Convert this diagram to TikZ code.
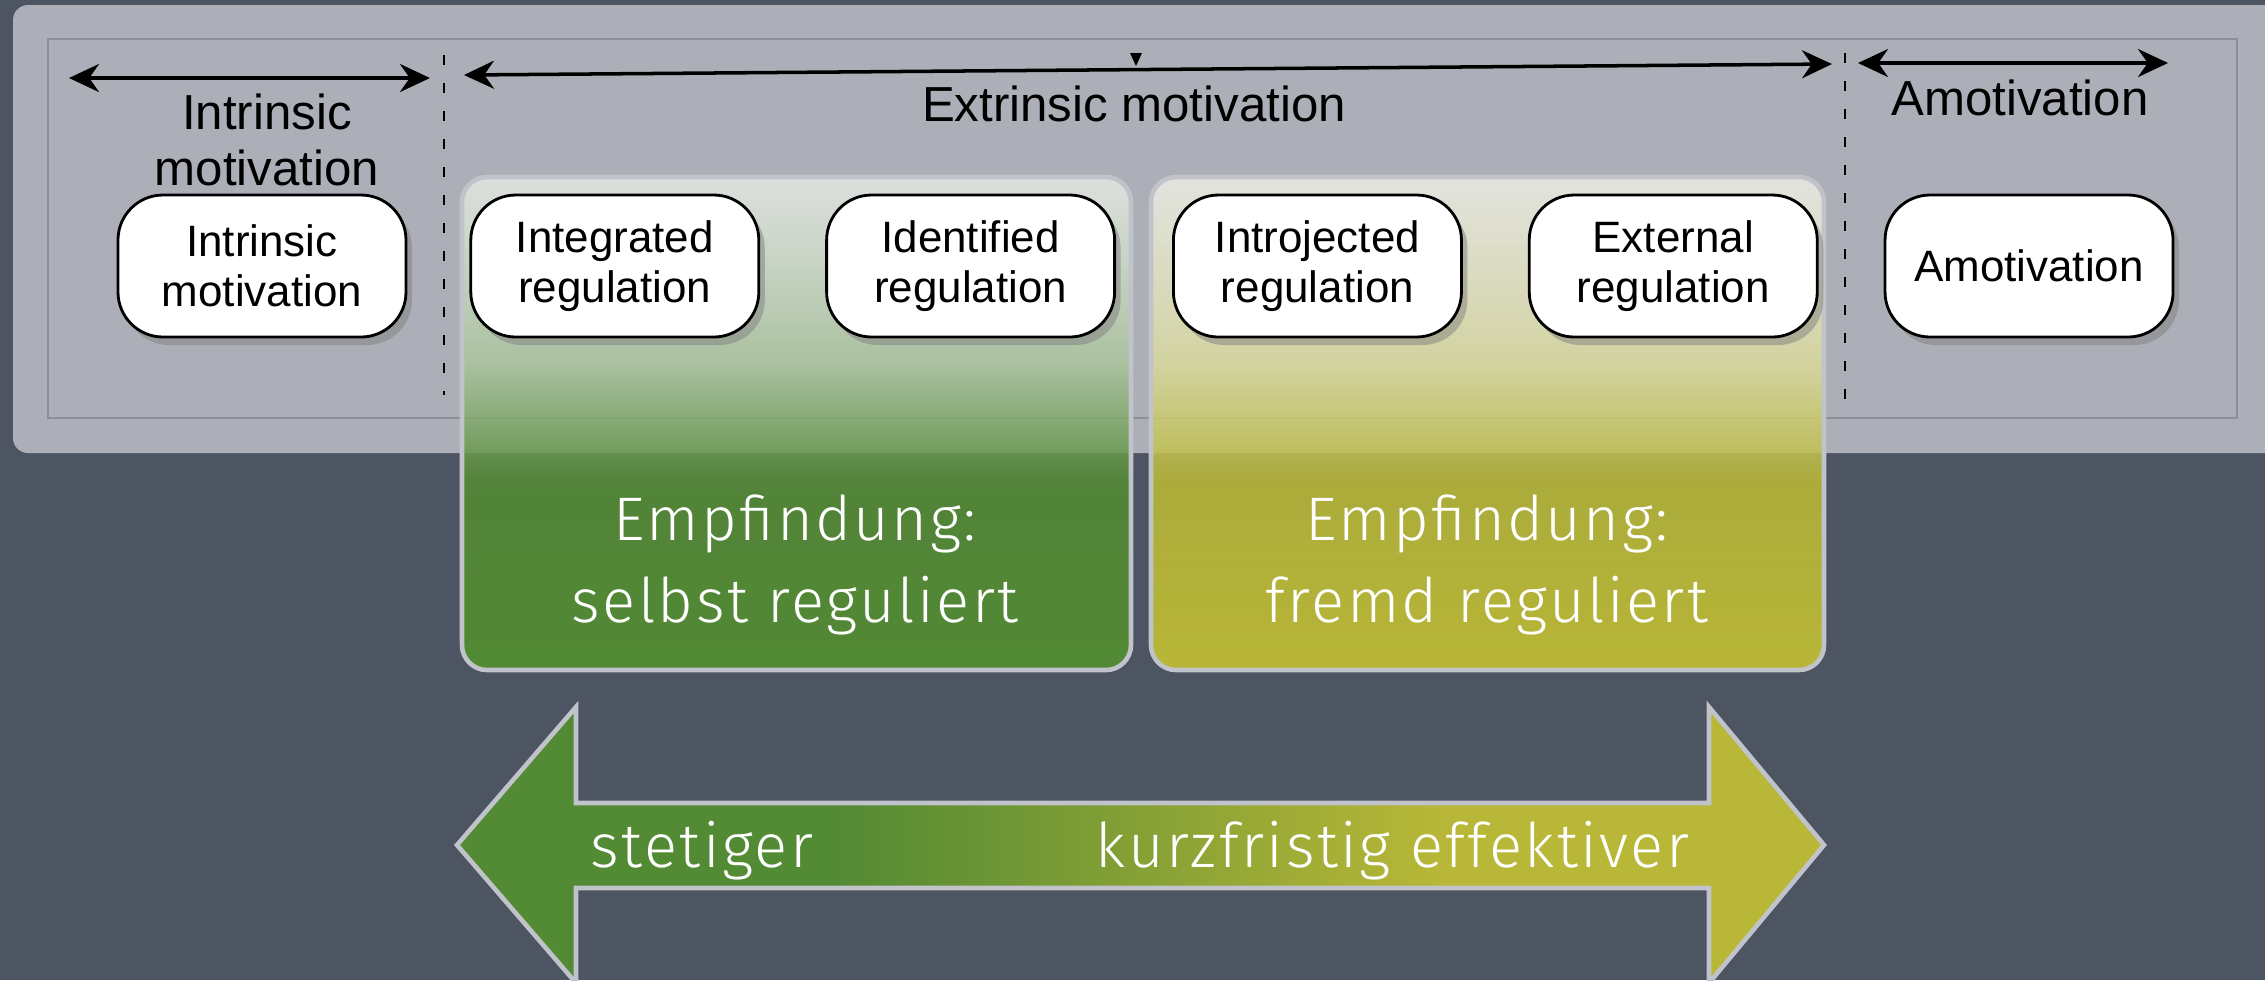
\documentclass[tikz,border=0pt]{standalone}
\usepackage{fontspec}
\setmainfont{Liberation Sans}
\newfontfamily\chalkfont[LetterSpace=4]{Fira Sans Light}
\usetikzlibrary{positioning, shadows, arrows.meta, fadings}

\definecolor{slate}{RGB}{77,84,98}
\definecolor{sheet}{RGB}{172,175,183}
\definecolor{frame}{RGB}{140,143,151}
\definecolor{selfgreen}{RGB}{83,138,52}
\definecolor{fremdyellow}{RGB}{184,183,55}
\definecolor{rim}{RGB}{192,195,201}

\pgfdeclareverticalshading{selfshade}{100bp}{color(0bp)=(selfgreen); color(25bp)=(selfgreen); color(44bp)=(selfgreen); color(56bp)=(selfgreen!50!white); color(75bp)=(selfgreen!8!white); color(100bp)=(selfgreen!8!white)}
\pgfdeclareverticalshading{fremdshade}{100bp}{color(0bp)=(fremdyellow); color(25bp)=(fremdyellow); color(44bp)=(fremdyellow); color(56bp)=(fremdyellow!50!white); color(75bp)=(fremdyellow!8!white); color(100bp)=(fremdyellow!8!white)}
\pgfdeclarehorizontalshading{trend}{100bp}{color(0bp)=(selfgreen); color(25bp)=(selfgreen); color(39bp)=(selfgreen); color(61bp)=(fremdyellow); color(75bp)=(fremdyellow); color(100bp)=(fremdyellow)}
\tikzfading[name=panelfade, top color=transparent!30, middle color=transparent!25, bottom color=transparent!0]

\tikzset{
  regbox/.style={draw, line width=0.8pt, fill=white, rounded corners=4.5mm,
    minimum width=2.88cm, minimum height=1.42cm, align=center,
    font=\fontsize{12.5}{14.2}\selectfont,
    drop shadow={shadow xshift=0.6mm, shadow yshift=-0.8mm, opacity=0.5}},
  spanarrow/.style={line width=1pt, {Stealth[length=3mm,width=2.8mm]}-{Stealth[length=3mm,width=2.8mm]}},
  divider/.style={line width=0.8pt, dash pattern=on 1mm off 1.8mm},
  spanlabel/.style={font=\fontsize{14}{16}\selectfont, align=center},
  panelfill/.style={rounded corners=2.5mm, path fading=panelfade},
  panelrim/.style={draw=rim, line width=1.3pt, rounded corners=2.5mm},
  chalk/.style={text=white, inner sep=0pt, align=center,
    font=\chalkfont\fontsize{17.5}{23.5}\selectfont},
}

\begin{document}
\begin{tikzpicture}
	% slate and the scanned sheet
	\fill[slate] (0,0) rectangle (22.65,-9.80);
	\useasboundingbox (0,0) rectangle (22.65,-9.80);
	\fill[sheet, rounded corners=1.5mm] (0.13,-0.05) rectangle (23.00,-4.53);
	\draw[frame, line width=0.4pt] (0.48,-0.39) rectangle (22.37,-4.18);
	\draw[divider] (4.44,-0.55) -- (4.44,-3.95);
	\draw[divider] (18.45,-0.53) -- (18.45,-4.03);

	% spans on top
	\coordinate (intrL) at (0.69,-0.78);
	\coordinate (intrR) at (4.30,-0.78);
	\coordinate (extrL) at (4.64,-0.75);
	\coordinate (extrR) at (18.32,-0.64);
	\coordinate (amotL) at (18.58,-0.63);
	\coordinate (amotR) at (21.68,-0.63);
	\draw[spanarrow] (intrL) -- (intrR);
	\draw[spanarrow] (extrL) -- (extrR);
	\draw[spanarrow] (amotL) -- (amotR);
	\fill (11.30,-0.53) -- (11.42,-0.53) -- (11.36,-0.66) -- cycle;
	\node[spanlabel] at (2.67,-1.40) (intrhead) {Intrinsic\\motivation};
	\node[spanlabel, anchor=base] at (11.34,-1.21) (extrhead) {Extrinsic motivation};
	\node[spanlabel, anchor=base] at (20.20,-1.15) (amothead) {Amotivation};

	% tinted panels
	\coordinate (selfTL) at (4.62,-1.77);
	\coordinate (selfBR) at (11.31,-6.70);
	\coordinate (fremdTL) at (11.51,-1.77);
	\coordinate (fremdBR) at (18.24,-6.70);
	\shade[panelfill, shading=selfshade] (selfTL) rectangle (selfBR);
	\draw[panelrim] (selfTL) rectangle (selfBR);
	\shade[panelfill, shading=fremdshade] (fremdTL) rectangle (fremdBR);
	\draw[panelrim] (fremdTL) rectangle (fremdBR);

	% regulation styles
	\node at (2.62,-2.66) [regbox] (intr) {Intrinsic\\motivation};
	\node [regbox, right=0.62cm of intr] (integ) {Integrated\\regulation};
	\node [regbox, right=0.65cm of integ] (ident) {Identified\\regulation};
	\node [regbox, right=0.56cm of ident] (intro) {Introjected\\regulation};
	\node [regbox, right=0.65cm of intro] (extern) {External\\regulation};
	\node [regbox, right=0.65cm of extern] (amot) {Amotivation};

	\node[chalk] at (7.95,-5.65) (selftext) {Empfindung:\\selbst reguliert};
	\node[chalk] at (14.87,-5.65) (fremdtext) {Empfindung:\\fremd reguliert};

	% double arrow below
	\shadedraw[shading=trend, draw=rim, line width=1.3pt]
		(4.57,-8.45) -- (5.76,-7.07) -- (5.76,-8.03) -- (17.09,-8.03) -- (17.09,-7.07)
		-- (18.24,-8.45) -- (17.09,-9.83) -- (17.09,-8.88) -- (5.76,-8.88) -- (5.76,-9.83) -- cycle;
	\node[chalk, anchor=base west] at (5.90,-8.67) (steady) {stetiger};
	\node[chalk, anchor=base east] at (16.90,-8.67) (short) {kurzfristig effektiver};
\end{tikzpicture}
\end{document}
